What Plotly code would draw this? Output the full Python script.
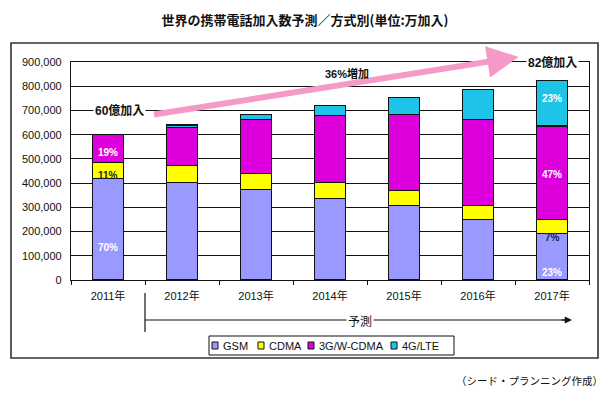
import plotly.graph_objects as go

# ---- data (units: 万加入) ----
years = ["2011年", "2012年", "2013年", "2014年", "2015年", "2016年", "2017年"]
gsm = [420000, 404000, 372000, 338000, 306000, 249000, 193000]
cdma = [65000, 68000, 69000, 66000, 62000, 58000, 58000]
w3g = [115000, 159000, 220000, 274000, 314000, 354000, 385000]
lte = [0, 9000, 21000, 41000, 73000, 127000, 188000]
series_names = ["GSM", "CDMA", "3G/W-CDMA", "4G/LTE"]
series_colors = ["#9999FF", "#FFFF00", "#DD00DD", "#1EC3E8"]
y_ticks = [0, 100000, 200000, 300000, 400000, 500000, 600000, 700000, 800000, 900000]

FONT = "Liberation Sans, Noto Sans CJK JP, sans-serif"
JP = "Noto Sans CJK JP, sans-serif"

# plot-area pixel box, used to place decorations in paper coordinates
PL, PR, PT, PB = 71, 589, 62, 280
def px(x):
    return (x - PL) / (PR - PL)
def py(y):
    return (PB - y) / (PB - PT)

fig = go.Figure()
for name, vals, col in zip(series_names, [gsm, cdma, w3g, lte], series_colors):
    fig.add_trace(go.Bar(
        x=years, y=vals, name=name,
        marker=dict(color=col, line=dict(color="#111111", width=1.2)),
        hoverinfo="x+y+name",
    ))

totals = [a + b + c + d for a, b, c, d in zip(gsm, cdma, w3g, lte)]
def pct(v, i):
    return f"{round(v / totals[i] * 100)}%"

annotations = []
def note(**kw):
    kw.setdefault("xanchor", "center")
    kw.setdefault("yanchor", "middle")
    kw.setdefault("showarrow", False)
    annotations.append(kw)

# percentage labels in the first and last bar
label_specs = [
    (0, w3g[0], 525000, "white"),
    (0, cdma[0], 430000, "#222222"),
    (0, gsm[0], 136000, "white"),
    (6, lte[6], 748000, "white"),
    (6, w3g[6], 434000, "white"),
    (6, cdma[6], 174000, "#1a1a66"),
    (6, gsm[6], 29000, "white"),
]
for i, v, ypos, col in label_specs:
    note(x=years[i], y=ypos, xref="x", yref="y", text=f"<b>{pct(v, i)}</b>",
         font=dict(family=FONT, size=10, color=col))

# pink growth arrow
annotations.append(dict(
    x=5.55, y=921000, xref="x", yref="y", ax=0.6, ay=682000, axref="x", ayref="y",
    showarrow=True, arrowhead=2, arrowsize=1.05, arrowwidth=6, arrowcolor="#F59AC8",
    text="",
))
note(x=0.16, y=700000, xref="x", yref="y", text="<b>60億加入</b>",
     bgcolor="white", font=dict(family=FONT, size=12, color="#111"))
note(x=6.01, y=900000, xref="x", yref="y", text="<b>82億加入</b>",
     bgcolor="white", font=dict(family=FONT, size=12, color="#111"))
note(x=px(347), y=py(73), xref="paper", yref="paper", text="<b>36%増加</b>",
     font=dict(family=FONT, size=11, color="#111"))

# forecast arrow below axis
annotations.append(dict(
    x=6.27, y=py(320), xref="x", yref="paper", ax=-12, ay=0,
    showarrow=True, arrowhead=2, arrowsize=1.2, arrowwidth=1.2, arrowcolor="#111",
    text="",
))
note(x=px(360), y=py(320), xref="paper", yref="paper", text="予測",
     bgcolor="white", font=dict(family=JP, size=12, color="#111"))

# custom legend
leg_x = [212, 258, 308, 391]
shapes = [
    # outer frame
    dict(type="rect", xref="paper", yref="paper", x0=px(11), x1=px(598), y0=py(358), y1=py(43),
         line=dict(color="#333333", width=1.6), layer="above"),
    # forecast line
    dict(type="line", xref="x", yref="paper", x0=0.5, x1=6.2, y0=py(320), y1=py(320),
         line=dict(color="#111", width=1.2)),
    dict(type="line", xref="x", yref="paper", x0=0.5, x1=0.5, y0=py(293), y1=py(332),
         line=dict(color="#111", width=1.2)),
    # legend box
    dict(type="rect", xref="paper", yref="paper", x0=px(209), x1=px(454), y0=py(355), y1=py(336),
         line=dict(color="#111", width=1), fillcolor="white", layer="above"),
]
for lx, name, col in zip(leg_x, series_names, series_colors):
    shapes.append(dict(type="rect", xref="paper", yref="paper",
                       x0=px(lx), x1=px(lx + 6), y0=py(349), y1=py(342),
                       line=dict(color="#111", width=1), fillcolor=col, layer="above"))
    note(x=px(lx + 9), y=py(345.5), xref="paper", yref="paper",
         text=name, xanchor="left", font=dict(family=FONT, size=11, color="#111"))

note(x=px(605), y=py(380), xref="paper", yref="paper", text="（シード・プランニング作成）",
     xanchor="right", font=dict(family=JP, size=10.5, color="#111"))

fig.update_layout(
    width=610, height=400,
    margin=dict(l=PL, r=610 - PR, t=PT, b=400 - PB),
    barmode="stack", bargap=0.59,
    paper_bgcolor="white", plot_bgcolor="white",
    showlegend=False,
    title=dict(text="<b>世界の携帯電話加入数予測／方式別(単位:万加入)</b>",
               x=0.5, xanchor="center", y=1 - 20 / 400, yanchor="middle",
               font=dict(family=JP, size=13, color="#111")),
    annotations=annotations, shapes=shapes,
    font=dict(family=FONT, size=11, color="#111"),
)
fig.update_xaxes(
    showline=True, linecolor="#111", linewidth=1.2, mirror=True,
    ticks="outside", tickson="boundaries", ticklen=4, tickcolor="#111",
    ticklabelstandoff=6,
    showgrid=False, tickfont=dict(family=FONT, size=11, color="#111"),
)
fig.update_yaxes(
    range=[0, 900000], tickvals=y_ticks, tickformat=",d",
    showline=True, linecolor="#111", linewidth=1.2, mirror=True,
    showgrid=True, gridcolor="#111", gridwidth=1, zeroline=False,
    ticks="", ticklabelstandoff=6, tickfont=dict(family=FONT, size=11, color="#111"),
)
fig.write_html("out.html", config={"displayModeBar": False},
               post_script="document.body.style.margin='0';document.body.style.overflow='hidden';")
